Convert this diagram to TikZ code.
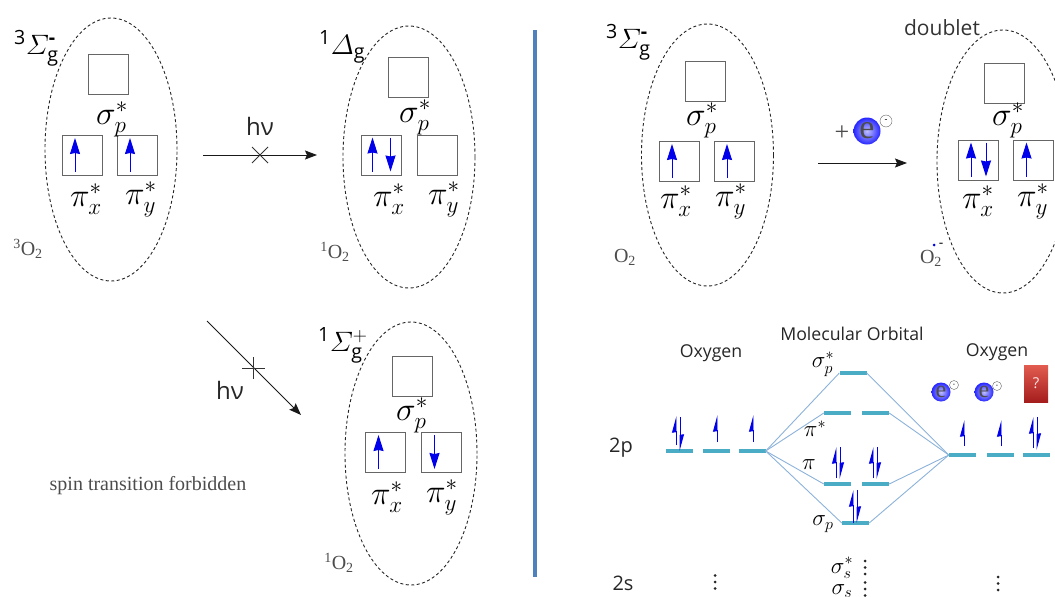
\documentclass[tikz,border=0pt]{standalone}
\usepackage{fix-cm}
\usepackage{amsmath}
\usepackage{fontspec}
\setmainfont{Open Sans}
\newfontfamily\timesfont{Liberation Serif}
\usetikzlibrary{arrows.meta,positioning,shapes.geometric}

\definecolor{levelcol}{RGB}{75,172,198}
\definecolor{linkcol}{RGB}{140,178,218}
\definecolor{spincol}{RGB}{0,0,235}
\definecolor{dividercol}{RGB}{79,129,189}
\definecolor{qboxtop}{RGB}{226,92,80}
\definecolor{qboxbot}{RGB}{165,30,30}

\newcommand{\fs}[1]{\fontsize{#1}{#1}\selectfont}
\newcommand{\spinat}[3]{\draw[#1] ([shift={(#3,-4)}]#2.south) -- ([shift={(#3,3)}]#2.north);}
\newcommand{\spindn}[3]{\draw[#1] ([shift={(#3,3)}]#2.north) -- ([shift={(#3,-4)}]#2.south);}

\begin{document}
\begin{tikzpicture}[
  x=1pt, y=-1pt,
  cloud/.style={draw=black!85, dashed, dash pattern=on 3pt off 2.5pt, line width=0.9pt,
                ellipse, inner sep=0pt},
  orbbox/.style={draw=black!60, line width=1pt, minimum size=40pt, inner sep=0pt},
  orblabel/.style={font=\fs{33}, inner sep=0pt},
  termlabel/.style={font=\fs{28}, inner sep=0pt, anchor=west},
  statelabel/.style={font=\timesfont\fs{20}, text=black!70, inner sep=0pt},
  plainlabel/.style={font=\fs{15}, text=black!80, inner sep=0pt},
  hvlabel/.style={font=\fs{24}, text=black!85, inner sep=0pt},
  molabel/.style={font=\fs{17.7}, text=black!85, inner sep=0pt},
  level/.style={fill=levelcol, minimum width=27pt, minimum height=3.4pt, inner sep=0pt},
  link/.style={draw=linkcol, line width=0.9pt},
  spin/.style={draw=spincol, line width=1pt,
               -{Stealth[length=16pt,width=10pt,inset=1pt]}},
  halfspin/.style={draw=spincol, line width=0.9pt,
               -{Stealth[length=15pt,width=8pt,inset=0.5pt,left]}},
  arrow/.style={-{Stealth[length=12pt,width=9pt,inset=2pt]}, line width=1pt, black!90},
  cross/.style={line width=0.8pt, black!80},
  eball/.style={circle, inner color=blue!25!white, outer color=blue!85, inner sep=0pt,
                text=black!70, font=\timesfont},
  minusdot/.style={circle, draw=black!60, fill=white, inner sep=0pt, font=\fs{9}},
  dotmark/.style={circle, fill=black!85, inner sep=0pt, minimum size=3pt}
]
\clip (0,0) rectangle (1055,597);

% clouds
\foreach \nm/\cx/\cy/\ch in {ca/111/149.5/263, cb/409/157/262, cc/411/453.5/263,
                             cd/707.5/155/262, ce/1003/161.5/263}
  \node[cloud, minimum width=132pt, minimum height=\ch pt] (\nm) at (\cx,\cy) {};

% orbital boxes
\foreach \nm/\cx/\cy in {as/108.5/74.5, ax/82.5/155.5, ay/137.5/155.5,
                         bs/408/77.5, bx/381.5/155, by/437.5/155,
                         cs/412/376, cx/385.5/452.5, cy/441.5/452.5,
                         ds/705.5/81, dx/679/161.5, dy/734/161.5,
                         es/1004.5/83.5, ex/978.5/160, ey/1033.5/160}
  \node[orbbox] (\nm) at (\cx,\cy) {};

% orbital names
\foreach \nm/\cx/\cy/\tx in {
    asl/112/119/\sigma_p^*, axl/86/199/\pi_x^*, ayl/141/199/\pi_y^*,
    bsl/415/117/\sigma_p^*, bxl/389/199/\pi_x^*, byl/444/199/\pi_y^*,
    csl/412/415/\sigma_p^*, cxl/387/497/\pi_x^*, cyl/442/497/\pi_y^*,
    dsl/702/120/\sigma_p^*, dxl/676/201/\pi_x^*, dyl/731/201/\pi_y^*,
    esl/1008/120/\sigma_p^*, exl/978/201/\pi_x^*, eyl/1033/201/\pi_y^*}
  \node[orblabel] (\nm) at (\cx,\cy) {$\tx$};

% term symbols
\node[termlabel] (ta) at (14,48) {$^{\mathrm{3}}\varSigma_{\mathrm{g}}^{\text{\bfseries -}}$};
\node[termlabel] (tb) at (319,47) {$^{\mathrm{1}}\varDelta_{\mathrm{g}}$};
\node[termlabel] (tc) at (318,345) {$^{\mathrm{1}}\varSigma_{\mathrm{g}}^{+}$};
\node[termlabel] (td) at (606,42) {$^{\mathrm{3}}\varSigma_{\mathrm{g}}^{\text{\bfseries -}}$};
\node[plainlabel, font=\fs{21}] (dbl) at (942,28) {doublet};

\node[statelabel] (sa) at (28,249) {$^{\text{3}}$O$_{\text{2}}$};
\node[statelabel] (sb) at (335,252) {$^{\text{1}}$O$_{\text{2}}$};
\node[statelabel] (sc) at (339,563) {$^{\text{1}}$O$_{\text{2}}$};
\node[statelabel] (sd) at (625,257) {O$_{\text{2}}$};
\node[statelabel] (se) at (931,258) {O$_{\text{2}}$};
\node[circle, fill=spincol, inner sep=0pt, minimum size=3pt] (edot) at (934,245) {};
\node[inner sep=0pt, font=\fs{14}, right=3pt of edot] (eminus) {-};

% spins in the boxes
\spinat{spin}{ax}{-7.5}
\spinat{spin}{ay}{-7.5}
\spinat{spin}{bx}{-9}
\spindn{spin}{bx}{9}
\spinat{spin}{cx}{-7}
\spindn{spin}{cy}{-7}
\spinat{spin}{dx}{-7}
\spinat{spin}{dy}{-7}
\spinat{spin}{ex}{-7.5}
\spindn{spin}{ex}{7.5}
\spinat{spin}{ey}{-7}

% transitions
\coordinate (hvstart) at (203,155);
\coordinate (hvend) at (317,155);
\draw[arrow] (hvstart) -- (hvend);
\node[hvlabel] (hva) at (260,126) {hν};
\draw[cross] (252,147) -- (268,163);
\draw[cross] (268,147) -- (252,163);

\coordinate (dgstart) at (207,321);
\coordinate (dgend) at (301,415);
\draw[arrow] (dgstart) -- (dgend);
\node[hvlabel] (hvb) at (230,390) {hν};
\draw[cross] (242,368) -- (265,368);
\draw[cross] (253,357) -- (253,379);
\node[statelabel] (forbid) at (148,486) {spin transition forbidden};

\node[draw=none, inner sep=0pt, font=\timesfont\fs{26}, text=black!70] (plus) at (842,133) {+};
\node[eball, minimum size=27pt, font=\timesfont\fs{34}] (eb) at (867,131) {e};
\node[minusdot, minimum size=12pt] (em) at (886,121) {-};
\coordinate (rxstart) at (818,163);
\coordinate (rxend) at (907,163);
\draw[arrow] (rxstart) -- (rxend);

% divider
\coordinate (divtop) at (535,30);
\coordinate (divbot) at (535,577);
\draw[dividercol, line width=3.4pt] (divtop) -- (divbot);

% molecular orbital levels
\foreach \nm/\cx/\cy in {la/679/451, lb/716.5/451, lc/752/451,
                         ra/962.5/455, rb/1000.5/455, rc/1036/455,
                         ms/853/373, mpa/837.5/413, mpb/875.5/413,
                         mna/837.5/484, mnb/875.5/484, mb/855.5/523}
  \node[level] (\nm) at (\cx,\cy) {};

\foreach \tgt in {ms, mpa, mna, mb}
  \draw[link] (lc.east) -- (\tgt.west);
\foreach \tgt in {ms, mpb, mnb, mb}
  \draw[link] (ra.west) -- (\tgt.east);

\node[molabel] (ol) at (711,353) {Oxygen};
\node[molabel] (mo) at (852,334) {Molecular Orbital};
\node[molabel] (or) at (997,352) {Oxygen};
\node[orblabel, font=\fs{23}] (lss) at (823,364) {$\sigma_p^*$};
\node[orblabel, font=\fs{23}] (lps) at (815,429) {$\pi^*$};
\node[orblabel, font=\fs{23}] (lpi) at (809,465) {$\pi$};
\node[orblabel, font=\fs{23}] (lsp) at (823,524) {$\sigma_p$};
\node[orblabel, font=\fs{23}] (lsa) at (842,568) {$\sigma_s^*$};
\node[orblabel, font=\fs{23}] (lsb) at (842,591) {$\sigma_s$};
\node[molabel, font=\fs{20}] (tp) at (621,448) {2p};
\node[molabel, font=\fs{20}] (ts) at (623,583) {2s};

% half arrows on the levels
\foreach \nm/\dx/\lo/\hi in {la/-3/6/35, lb/0.5/9/36, lc/1/9/36,
                             mna/-1.5/6/37, mnb/-2.5/6/37, mb/-2.5/0/33,
                             ra/1.5/9/35, rb/0.5/9/35, rc/-3/7/38}
  \draw[halfspin] ([shift={(\dx,-\lo)}]\nm.center) -- ([shift={(\dx,-\hi)}]\nm.center);
\foreach \nm/\dx/\lo/\hi in {la/1/0/34, mna/2.5/5/37, mnb/1.5/5/37, mb/1.5/0/33, rc/1/5/38}
  \draw[halfspin] ([shift={(\dx,-\hi)}]\nm.center) -- ([shift={(\dx,-\lo)}]\nm.center);

% dots
\foreach \nm/\cx/\cy in {da/715/582, db/865/567.5, dc/865/589, dd/998/583.5}
  \foreach \k in {1,2,3}
    \node[dotmark] (\nm\k) at (\cx,\cy+6.5*\k-13) {};

% electrons above the right atom
\node[eball, minimum size=19pt, font=\timesfont\fs{24}] (ea) at (941,392) {e};
\node[minusdot, minimum size=9pt, font=\fs{7}] (ema) at (954,385) {-};
\node[eball, minimum size=19pt, font=\timesfont\fs{24}] (ec) at (984,392) {e};
\node[minusdot, minimum size=9pt, font=\fs{7}] (emc) at (997,386) {-};
\node[top color=qboxtop, bottom color=qboxbot, minimum width=24pt, minimum height=37pt,
      inner sep=0pt, text=white!90!red, font=\fs{15}] (qbox) at (1036,383.5) {?};
\end{tikzpicture}
\end{document}
